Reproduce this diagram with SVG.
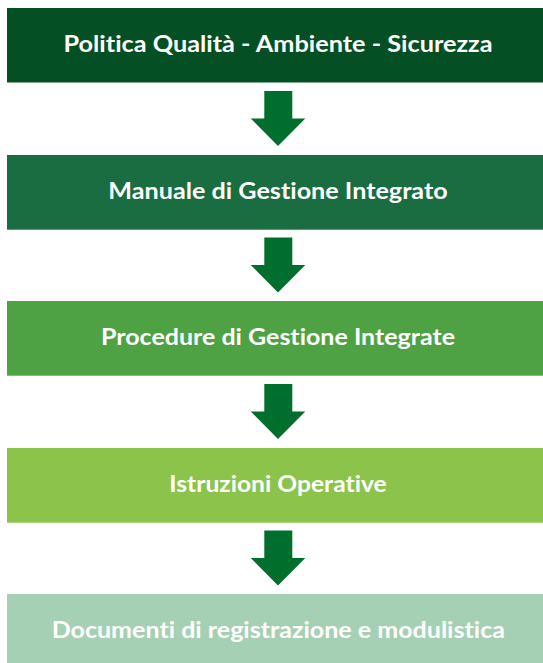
<svg xmlns="http://www.w3.org/2000/svg" width="543" height="663" viewBox="0 0 543 663">
  <style>
    .lbl { font-family: "Lato", "Liberation Sans", sans-serif; font-weight: 700; font-size: 22px; fill: #ffffff; text-anchor: middle; font-variant-ligatures: none; font-feature-settings: "liga" 0, "dlig" 0; }
    .arrow { fill: #006f2e; }
  </style>
  <defs>
    <path id="arr" d="M264.3 0 H292.3 V27.5 H305.3 L278 55 L250.7 27.5 H264.3 Z"/>
  </defs>
  <rect width="543" height="663" fill="#ffffff"/>
  <g id="node1">
    <rect x="7" y="8" width="536" height="74.5" fill="#044f23"/>
    <text class="lbl" x="278" y="51.7" textLength="429" lengthAdjust="spacingAndGlyphs">Politica Qualità - Ambiente - Sicurezza</text>
  </g>
  <g id="node2">
    <rect x="7" y="155" width="536" height="74.7" fill="#1a6c41"/>
    <text class="lbl" x="278" y="199" textLength="339.4" lengthAdjust="spacingAndGlyphs">Manuale di Gestione Integrato</text>
  </g>
  <g id="node3">
    <rect x="7" y="301" width="536" height="74.7" fill="#4ea244"/>
    <text class="lbl" x="278" y="345" textLength="354" lengthAdjust="spacingAndGlyphs">Procedure di Gestione Integrate</text>
  </g>
  <g id="node4">
    <rect x="7" y="448" width="536" height="74.7" fill="#8bc34b"/>
    <text class="lbl" x="278" y="492.3" textLength="217.4" lengthAdjust="spacingAndGlyphs">Istruzioni Operative</text>
  </g>
  <g id="node5">
    <rect x="7" y="594" width="536" height="69" fill="#a5d0b4"/>
    <text class="lbl" x="278.3" y="638.3" textLength="453.3" lengthAdjust="spacingAndGlyphs">Documenti di registrazione e modulistica</text>
  </g>
  <g id="connectors">
    <use href="#arr" class="arrow" transform="translate(0 91)"/>
    <use href="#arr" class="arrow" transform="translate(0 237.5)"/>
    <use href="#arr" class="arrow" transform="translate(0 384)"/>
    <use href="#arr" class="arrow" transform="translate(0 530.5)"/>
  </g>
</svg>
